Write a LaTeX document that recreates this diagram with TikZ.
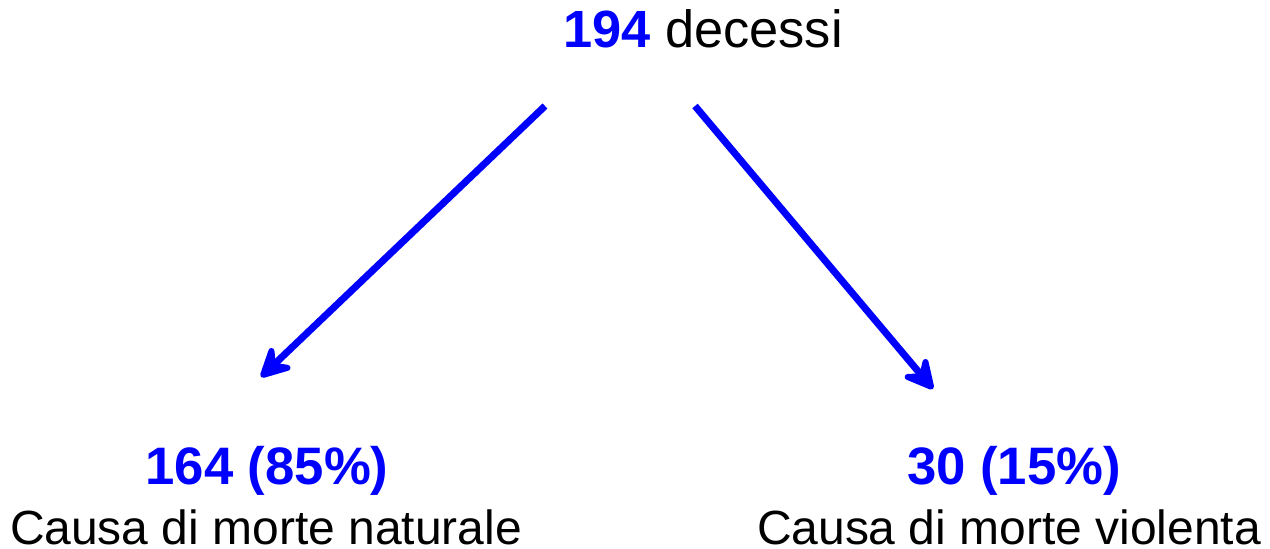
\documentclass[tikz,border=0pt]{standalone}
\usepackage{fontspec}
\setmainfont{Liberation Sans}
\usepackage[usenames]{xcolor}
\usetikzlibrary{arrows.meta}

\begin{document}
\begin{tikzpicture}[line cap=butt,line join=round,>={Stealth[round,length=0.78cm,width=0.8cm,inset=0.3cm]},x=1.0cm,y=1.0cm,
  txt/.style={anchor=base,inner sep=0pt,font=\fontsize{27.3}{33}\selectfont},
  num/.style={txt,text=blue,font=\fontsize{30}{36}\selectfont\bfseries},
  freccia/.style={->,draw=blue,line width=4pt}]
\useasboundingbox (0,0) rectangle (25.4,10.96);

\node[txt,font=\fontsize{29.8}{36}\selectfont] (tot) at (14.06,10.0) {\textcolor{blue}{\bfseries 194} decessi};

\node[num] (natnum) at (5.34,1.28) {164 (85\%)};
\node[txt] (natlab) at (5.32,0.08) {Causa di morte naturale};
\node[num] (violnum) at (20.28,1.28) {30 (15\%)};
\node[txt] (viollab) at (20.18,0.08) {Causa di morte violenta};

\coordinate (natda) at (10.9,8.84);
\coordinate (nata) at (5.22,3.42);
\coordinate (violda) at (13.9,8.84);
\coordinate (viola) at (18.66,3.18);

\draw[freccia] (natda)--(nata);
\draw[freccia] (violda)--(viola);

\end{tikzpicture}
\end{document}
